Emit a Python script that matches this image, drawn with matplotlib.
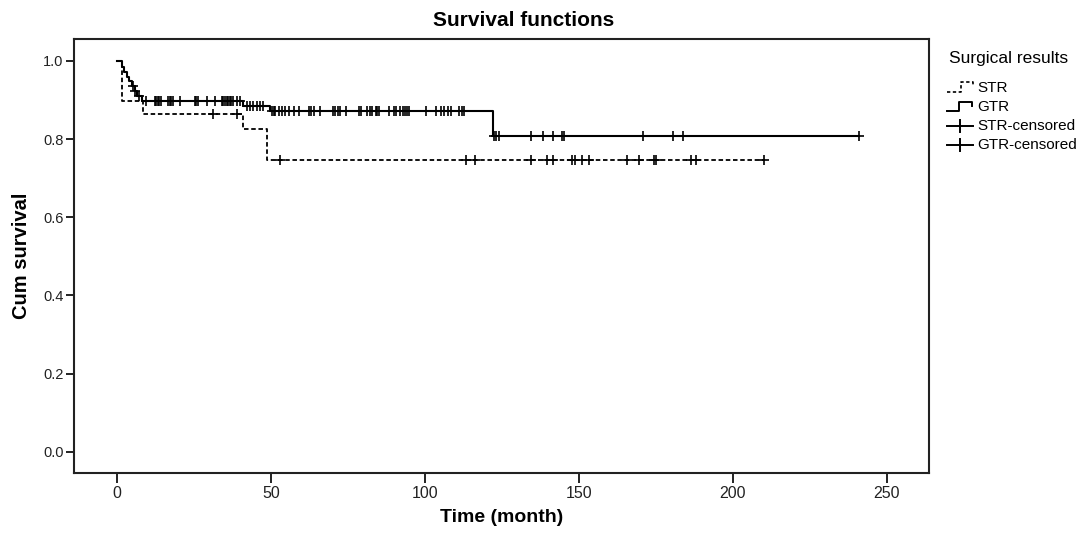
import matplotlib
matplotlib.use("Agg")
import matplotlib.pyplot as plt
from matplotlib.lines import Line2D

plt.rcParams['font.family'] = ['Liberation Sans', 'DejaVu Sans']

# ---- data ----
# GTR: event times (month) and survival after each event
gtr_times = [0, 1.5, 2.3, 3.0, 3.9, 4.7, 5.6, 6.5, 8.0, 41.0, 49.7, 122.1]
gtr_surv = [1.0, 0.985, 0.972, 0.960, 0.948, 0.935, 0.922, 0.910, 0.897, 0.884, 0.871, 0.808]
gtr_end = 241.0
gtr_cens = [5.0, 5.6, 7.2, 9.4, 12.1, 12.6, 13.2, 13.7, 14.3, 16.4, 17.0, 17.5, 18.1,
            20.3, 25.2, 25.7, 26.2, 29.0, 31.7, 33.9, 34.4, 35.0, 35.5, 36.0, 36.6,
            37.1, 37.7, 38.8, 39.9, 42.1, 43.1, 44.2, 45.3, 46.4, 47.5, 50.2, 50.8,
            51.3, 52.4, 53.5, 54.6, 55.7, 57.3, 58.9, 62.2, 63.0, 63.8, 66.0, 70.2,
            70.9, 71.7, 72.5, 74.2, 78.5, 79.1, 81.3, 82.1, 82.9, 84.0, 84.5, 85.1,
            88.3, 90.0, 90.5, 91.9, 92.7, 93.5, 94.1, 94.9, 100.3, 103.6, 105.2,
            106.3, 107.4, 108.5, 111.2, 112.0, 112.8, 122.4, 123.2, 123.9, 134.6,
            138.5, 141.5, 144.4, 145.3, 170.9, 180.7, 183.7, 241.0]

# STR
str_times = [0, 1.5, 8.3, 41.0, 48.6]
str_surv = [1.0, 0.898, 0.864, 0.826, 0.746]
str_end = 210.1
str_cens = [31.2, 38.8, 52.9, 113.4, 116.1, 134.6, 139.5, 141.5, 147.7, 148.8,
            151.0, 153.4, 165.7, 169.5, 174.4, 175.2, 186.4, 188.0, 210.1]

x_ticks = [0, 50, 100, 150, 200, 250]
y_ticks = [0.0, 0.2, 0.4, 0.6, 0.8, 1.0]


def surv_at(times, surv, t):
    s = surv[0]
    for ti, si in zip(times, surv):
        if ti <= t:
            s = si
    return s


W, H = 1087, 549
fig = plt.figure(figsize=(W / 100, H / 100), dpi=100)
ax = fig.add_axes([74 / W, 1 - 473 / H, (929 - 74) / W, (473 - 39) / H])

# step curves
ax.step(gtr_times + [gtr_end], gtr_surv + [gtr_surv[-1]], where='post',
        color='black', linewidth=1.5)
ax.step(str_times + [str_end], str_surv + [str_surv[-1]], where='post',
        color='black', linewidth=1.3, linestyle=(0, (2.5, 1.5)))

# censor marks
ax.plot(gtr_cens, [surv_at(gtr_times, gtr_surv, t) for t in gtr_cens],
        linestyle='none', marker='+', markersize=7.5, markeredgewidth=1.2, color='black')
ax.plot(str_cens, [surv_at(str_times, str_surv, t) for t in str_cens],
        linestyle='none', marker='+', markersize=7.5, markeredgewidth=1.2, color='black')

ax.set_xlim(-14.07, 263.8)
ax.set_ylim(-0.0545, 1.056)
ax.set_xticks(x_ticks)
ax.set_xticklabels([str(v) for v in x_ticks], fontsize=11.5)
ax.set_yticks(y_ticks)
ax.set_yticklabels([f'{v:.1f}' for v in y_ticks], fontsize=10.5)
ax.tick_params(direction='out', width=1.4, colors='#222222', pad=1.5)
ax.tick_params(axis='x', length=7.5)
ax.tick_params(axis='y', length=6)
for sp in ax.spines.values():
    sp.set_linewidth(1.5)
    sp.set_color('#222222')

ax.set_xlabel('Time (month)', fontsize=14, fontweight='bold', labelpad=6)
ax.set_ylabel('Cum survival', fontsize=14.5, fontweight='bold', labelpad=9)
fig.text(524 / W, 1 - 21 / H, 'Survival functions', ha='center', va='center',
         fontsize=15, fontweight='bold')


# legend (drawn by hand in figure pixels)
def fx(px):
    return px / W


def fy(py):
    return 1 - py / H


fig.text(fx(949), fy(58), 'Surgical results', fontsize=12.5, va='center', ha='left')
leg_labels = ['STR', 'GTR', 'STR-censored', 'GTR-censored']
leg_y = [88, 107, 126, 145]
for lab, yy in zip(leg_labels, leg_y):
    fig.text(fx(977), fy(yy), lab, fontsize=11, va='center', ha='left')
# STR symbol: dashed step
fig.add_artist(Line2D([fx(947), fx(961), fx(961), fx(973), fx(973)],
                      [fy(92), fy(92), fy(82), fy(82), fy(85)],
                      color='black', linewidth=1.2, linestyle=(0, (2, 1.5))))
# GTR symbol: solid step
fig.add_artist(Line2D([fx(947), fx(959), fx(959), fx(972), fx(972)],
                      [fy(111), fy(111), fy(102), fy(102), fy(106)],
                      color='black', linewidth=1.4))
for yy in leg_y[2:]:
    fig.add_artist(Line2D([fx(947), fx(973)], [fy(yy), fy(yy)], color='black', linewidth=1.4))
    fig.add_artist(Line2D([fx(960), fx(960)], [fy(yy - 6), fy(yy + 6)], color='black', linewidth=1.4))

fig.savefig('out.png', dpi=100)
